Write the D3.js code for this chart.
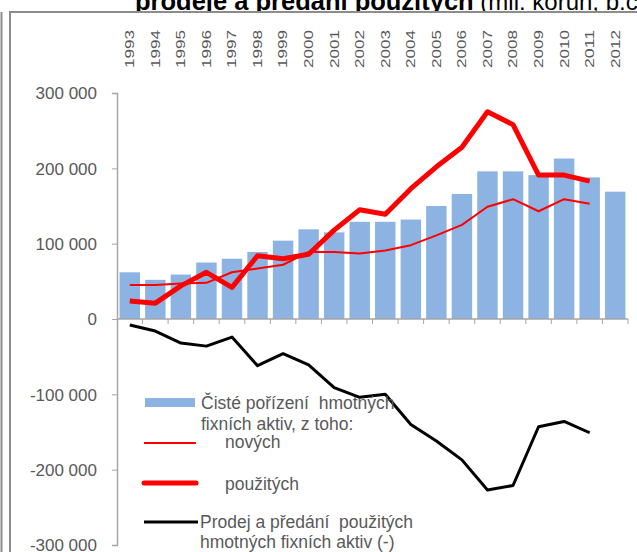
<!DOCTYPE html>
<html>
<head>
<meta charset="utf-8">
<script src="https://cdn.jsdelivr.net/npm/d3@7"></script>
<style>
  body { margin: 0; background: #fff; }
  svg { display: block; font-family: Arial, "Liberation Sans", sans-serif; }
</style>
</head>
<body>
<div class="chart"></div>
<script>
var svgWidth = 637;
var svgHeight = 552;

// data (mil. Kč)
var years = ["1993", "1994", "1995", "1996", "1997", "1998", "1999", "2000", "2001", "2002",
    "2003", "2004", "2005", "2006", "2007", "2008", "2009", "2010", "2011", "2012"];
var ciste = [62000, 52000, 59000, 75000, 80000, 89000, 104000, 119000, 115000, 129000,
    129000, 132000, 150000, 166000, 196000, 196000, 191000, 213000, 188000, 169000];
var novych = [45000, 45000, 47000, 48000, 62000, 67000, 72000, 89000, 89000, 87000,
    91000, 98000, 111000, 125000, 149000, 159000, 143000, 159000, 153000, null];
var pouzitych = [24000, 21000, 44000, 62000, 42000, 84000, 80000, 86000, 118000, 145000,
    139000, 173000, 202000, 228000, 275000, 258000, 191000, 191000, 183000, null];
var prodej = [-8000, -16000, -32000, -36000, -24000, -62000, -46000, -61000, -91000, -104000,
    -100000, -140000, -162000, -187000, -227000, -221000, -143000, -136000, -151000, null];
var yTicks = [-300000, -200000, -100000, 0, 100000, 200000, 300000];

var svg = d3.select(".chart")
    .append("svg")
    .attr("width", svgWidth)
    .attr("height", svgHeight);

// title (cut off at the top like the source)
var title = svg.append("text")
    .attr("x", 135).attr("y", 10)
    .attr("fill", "#000");
title.append("tspan").attr("font-weight", "bold").attr("font-size", "25.5px").text("prodeje a předání použitých");
title.append("tspan").attr("font-size", "24px").text(" (mil. korun, b.c.)");

// frame, white inside so it hides the title's descenders
svg.append("line")
    .attr("x1", 1.5).attr("x2", 1.5).attr("y1", 12).attr("y2", svgHeight)
    .attr("stroke", "#8c8c8c").attr("stroke-width", 2);
svg.append("rect")
    .attr("x", 10).attr("y", 12)
    .attr("width", 700).attr("height", 600)
    .attr("fill", "#fff").attr("stroke", "#8c8c8c").attr("stroke-width", 2);

// scales
var x = d3.scaleBand()
    .domain(years)
    .range([117, 628])
    .paddingInner(0.2)
    .paddingOuter(0.1);

var y = d3.scaleLinear()
    .domain([-300000, 300000])
    .range([545, 93]);

// bars
svg.selectAll("rect.bar")
    .data(ciste)
    .enter()
    .append("rect")
    .attr("class", "bar")
    .attr("x", (d, i) => x(years[i]))
    .attr("y", d => y(d))
    .attr("width", x.bandwidth())
    .attr("height", d => y(0) - y(d))
    .attr("fill", "#8db3e2");

// y axis
var leftAxis = d3.axisLeft(y)
    .tickValues(yTicks)
    .tickSize(5)
    .tickPadding(15)
    .tickFormat(d => d3.format(",")(d).replace(/,/g, " ").replace("−", "-"));
var gy = svg.append("g")
    .attr("transform", "translate(117,0)")
    .call(leftAxis);
gy.select(".domain").attr("stroke", "#a6a6a6").attr("stroke-width", 1.5);
gy.selectAll(".tick line").attr("stroke", "#a6a6a6");
gy.selectAll(".tick text")
    .attr("fill", "#595959")
    .style("font-size", "17px")
    .attr("dy", "0.35em");

// x axis line at zero with ticks between categories
var step = x.step();
var xStart = x.range()[0];
svg.append("line")
    .attr("x1", 117).attr("x2", 628)
    .attr("y1", y(0)).attr("y2", y(0))
    .attr("stroke", "#a6a6a6").attr("stroke-width", 1.5);
svg.selectAll("line.xtick")
    .data(years)
    .enter()
    .append("line")
    .attr("class", "xtick")
    .attr("x1", (d, i) => xStart + step * (i + 1))
    .attr("x2", (d, i) => xStart + step * (i + 1))
    .attr("y1", y(0)).attr("y2", y(0) + 5)
    .attr("stroke", "#a6a6a6");

// year labels on top
svg.selectAll("text.year")
    .data(years)
    .enter()
    .append("text")
    .attr("class", "year")
    .attr("transform", d => `translate(${x(d) + x.bandwidth() / 2},68) rotate(-90)`)
    .attr("dy", "0.35em")
    .attr("font-size", "12.5px")
    .attr("textLength", 38)
    .attr("lengthAdjust", "spacingAndGlyphs")
    .attr("fill", "#595959")
    .text(d => d);

// lines
function drawLine(values, color, width) {
    var line = d3.line()
        .defined(d => d != null)
        .x((d, i) => x(years[i]) + x.bandwidth() / 2)
        .y(d => y(d));
    svg.append("path")
        .datum(values)
        .attr("d", line)
        .attr("fill", "none")
        .attr("stroke", color)
        .attr("stroke-width", width)
        .attr("stroke-linejoin", "round");
}
drawLine(novych, "#ff0000", 2);
drawLine(pouzitych, "#ff0000", 5);
drawLine(prodej, "#000000", 3);

// legend
var legend = svg.append("g")
    .attr("fill", "#595959")
    .style("font-size", "17.5px");
legend.append("rect")
    .attr("x", 145).attr("y", 398).attr("width", 50).attr("height", 9)
    .attr("fill", "#8db3e2");
legend.append("text").attr("x", 201).attr("y", 409).text("Čisté pořízení\u00a0 hmotných");
legend.append("text").attr("x", 201).attr("y", 430).text("fixních aktiv, z toho:");

legend.append("line")
    .attr("x1", 144).attr("x2", 196).attr("y1", 443).attr("y2", 443)
    .attr("stroke", "#ff0000").attr("stroke-width", 2);
legend.append("text").attr("x", 225).attr("y", 448).text("nových");

legend.append("line")
    .attr("x1", 144).attr("x2", 196).attr("y1", 483).attr("y2", 483)
    .attr("stroke", "#ff0000").attr("stroke-width", 5).attr("stroke-linecap", "round");
legend.append("text").attr("x", 225).attr("y", 490).text("použitých");

legend.append("line")
    .attr("x1", 144).attr("x2", 198).attr("y1", 522).attr("y2", 522)
    .attr("stroke", "#000").attr("stroke-width", 3);
legend.append("text").attr("x", 200).attr("y", 528).text("Prodej a předání\u00a0 použitých");
legend.append("text").attr("x", 200).attr("y", 548).text("hmotných fixních aktiv (-)");
</script>
</body>
</html>
